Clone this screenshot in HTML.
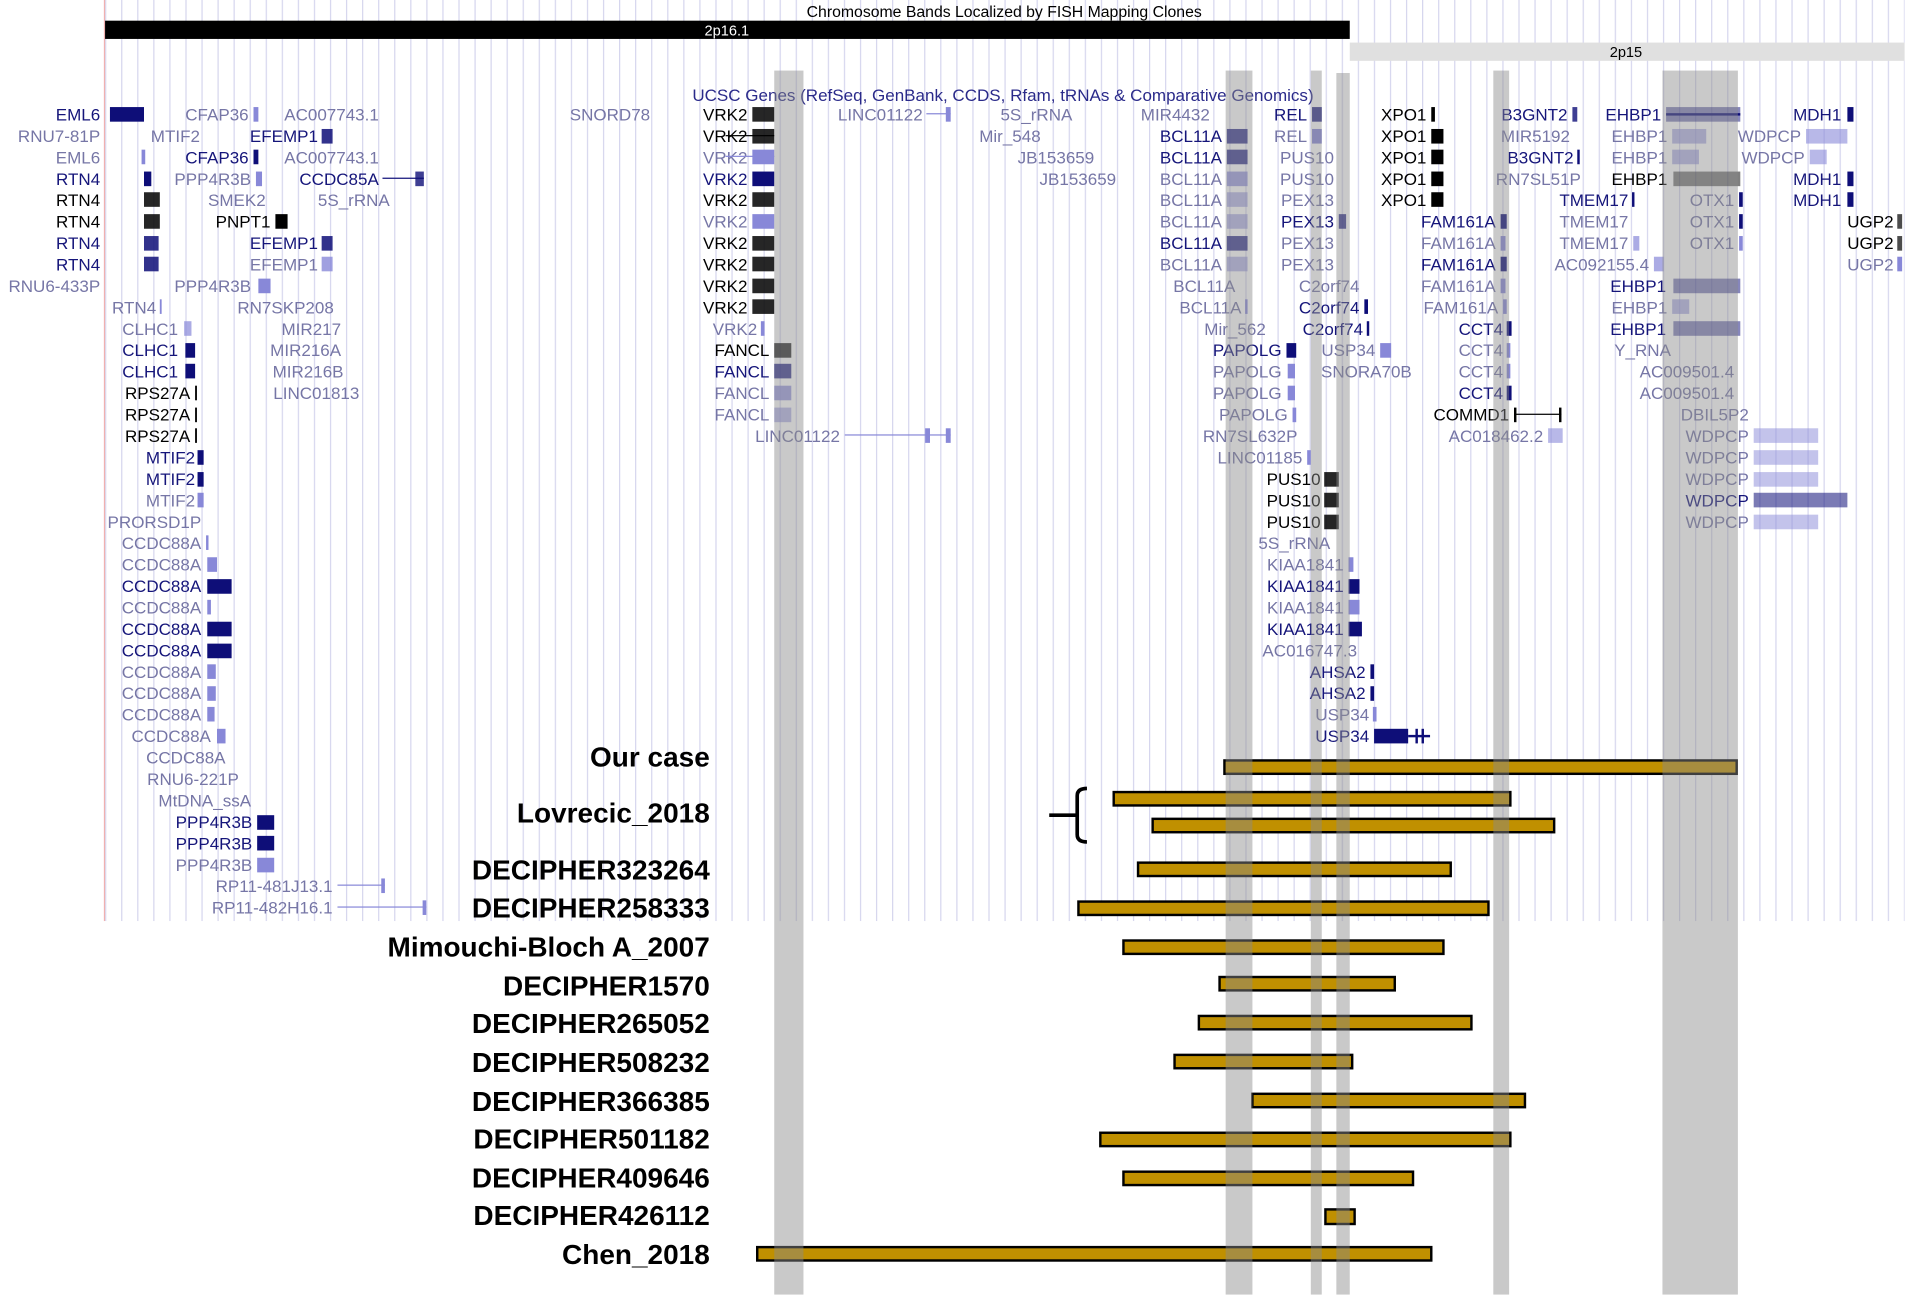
<!DOCTYPE html>
<html><head><meta charset="utf-8"><style>
html,body{margin:0;padding:0;background:#fff;}
svg{display:block;}
text{font-family:"Liberation Sans",sans-serif;font-size:14px;}
.g text{text-anchor:end;}
.d{fill:#15157a;} .k{fill:#000;} .l{fill:#7676a6;}
.gd{fill:#0e0e78;} .gk{fill:#000;} .gl{fill:#8888d8;}
.lab{font-family:"Liberation Sans Narrow","Liberation Sans",sans-serif;font-weight:bold;font-size:23px;text-anchor:end;fill:#000;}
.bar{fill:#c09000;stroke:#000;stroke-width:2;}
</style></head><body>
<svg width="1905" height="1297" viewBox="0 0 1565 1066" xmlns="http://www.w3.org/2000/svg">
<defs><pattern id="gp" x="86" y="0" width="13.2" height="800" patternUnits="userSpaceOnUse"><rect x="0" y="0" width="1" height="800" fill="#d6d6ee"/></pattern></defs>
<rect x="86" y="0" width="1479" height="757" fill="url(#gp)"/>
<rect x="85" y="0" width="1" height="757" fill="#f0b0b0"/>
<text x="825" y="14" text-anchor="middle" style="font-size:13px">Chromosome Bands Localized by FISH Mapping Clones</text>
<rect x="86" y="17" width="1023" height="15" fill="#000"/>
<text x="597" y="29" text-anchor="middle" fill="#fff" style="font-size:12px">2p16.1</text>
<rect x="1109" y="35" width="456" height="15" fill="#e0e0e0"/>
<text x="1336" y="47" text-anchor="middle" style="font-size:12px">2p15</text>
<text x="824" y="83" text-anchor="middle" fill="#2a2a8a">UCSC Genes (RefSeq, GenBank, CCDS, Rfam, tRNAs &amp; Comparative Genomics)</text>

<g class="g">
<!-- column 1 -->
<text x="82" y="99" class="d">EML6</text><rect x="90" y="88" width="28" height="12" class="gd"/>
<text x="82" y="116.6" class="l">RNU7-81P</text>
<text x="82" y="134.2" class="l">EML6</text><rect x="116" y="123" width="3" height="12" class="gl"/>
<text x="82" y="151.9" class="d">RTN4</text><rect x="118" y="141" width="6" height="12" class="gd"/>
<text x="82" y="169.5" class="k">RTN4</text><rect x="118" y="158" width="13" height="12" class="gk" opacity=".85"/>
<text x="82" y="187.1" class="k">RTN4</text><rect x="118" y="176" width="13" height="12" class="gk" opacity=".85"/>
<text x="82" y="204.7" class="d">RTN4</text><rect x="118" y="194" width="12" height="12" class="gd" opacity=".85"/>
<text x="82" y="222.3" class="d">RTN4</text><rect x="118" y="211" width="12" height="12" class="gd" opacity=".85"/>
<text x="82" y="240" class="l">RNU6-433P</text>
<text x="128" y="257.6" class="l">RTN4</text><rect x="131" y="246" width="1.5" height="12" class="gl"/>
<text x="146" y="275.2" class="l">CLHC1</text><rect x="151" y="264" width="6" height="12" class="gl" opacity=".7"/>
<text x="146" y="292.8" class="d">CLHC1</text><rect x="152" y="282" width="8" height="12" class="gd"/>
<text x="146" y="310.4" class="d">CLHC1</text><rect x="152" y="299" width="8" height="12" class="gd"/>
<text x="156" y="328" class="k">RPS27A</text><rect x="160" y="317" width="1.5" height="12" class="gk"/>
<text x="156" y="345.7" class="k">RPS27A</text><rect x="160" y="335" width="1.5" height="12" class="gk"/>
<text x="156" y="363.3" class="k">RPS27A</text><rect x="160" y="352" width="1.5" height="12" class="gk"/>
<text x="160" y="380.9" class="d">MTIF2</text><rect x="162" y="370" width="5" height="12" class="gd"/>
<text x="160" y="398.5" class="d">MTIF2</text><rect x="162" y="388" width="5" height="12" class="gd"/>
<text x="160" y="416.2" class="l">MTIF2</text><rect x="162" y="405" width="5" height="12" class="gl"/>
<text x="165" y="433.8" class="l">PRORSD1P</text>
<text x="165" y="451.4" class="l">CCDC88A</text><rect x="169" y="440" width="2" height="12" class="gl"/>
<text x="165" y="469" class="l">CCDC88A</text><rect x="170" y="458" width="8" height="12" class="gl"/>
<text x="165" y="486.6" class="d">CCDC88A</text><rect x="170" y="476" width="20" height="12" class="gd"/>
<text x="165" y="504.3" class="l">CCDC88A</text><rect x="170" y="493" width="3" height="12" class="gl"/>
<text x="165" y="521.9" class="d">CCDC88A</text><rect x="170" y="511" width="20" height="12" class="gd"/>
<text x="165" y="539.5" class="d">CCDC88A</text><rect x="170" y="529" width="20" height="12" class="gd"/>
<text x="165" y="557.1" class="l">CCDC88A</text><rect x="170" y="546" width="7" height="12" class="gl"/>
<text x="165" y="574.7" class="l">CCDC88A</text><rect x="170" y="564" width="7" height="12" class="gl"/>
<text x="165" y="592.3" class="l">CCDC88A</text><rect x="170" y="581" width="6" height="12" class="gl"/>
<text x="173" y="610" class="l">CCDC88A</text><rect x="178" y="599" width="7" height="12" class="gl"/>
<text x="185" y="627.6" class="l">CCDC88A</text>
<text x="196" y="645.2" class="l">RNU6-221P</text>
<text x="206" y="662.8" class="l">MtDNA_ssA</text>
<text x="207" y="680.4" class="d">PPP4R3B</text><rect x="211" y="670" width="14" height="12" class="gd"/>
<text x="207" y="698" class="d">PPP4R3B</text><rect x="211" y="687" width="14" height="12" class="gd"/>
<text x="207" y="715.7" class="l">PPP4R3B</text><rect x="211" y="705" width="14" height="12" class="gl"/>
<text x="273" y="733.3" class="l">RP11-481J13.1</text><rect x="277" y="727" width="39" height="1" class="gl"/><rect x="313" y="722" width="3" height="12" class="gl"/>
<text x="273" y="750.9" class="l">RP11-482H16.1</text><rect x="277" y="745" width="73" height="1" class="gl"/><rect x="347" y="740" width="3" height="12" class="gl"/>
<!-- column 2 -->
<text x="204" y="99" class="l">CFAP36</text><rect x="208" y="88" width="4" height="12" class="gl"/>
<text x="311" y="99" class="l">AC007743.1</text>
<text x="164" y="116.6" class="l">MTIF2</text>
<text x="261" y="116.6" class="d">EFEMP1</text><rect x="264" y="106" width="9" height="12" class="gd" opacity=".85"/>
<text x="204" y="134.2" class="d">CFAP36</text><rect x="208" y="123" width="4" height="12" class="gd"/>
<text x="311" y="134.2" class="l">AC007743.1</text>
<text x="206" y="151.9" class="l">PPP4R3B</text><rect x="210" y="141" width="5" height="12" class="gl"/>
<text x="311" y="151.9" class="d">CCDC85A</text><rect x="314" y="146" width="34" height="1" class="gd"/><rect x="341" y="141" width="7" height="12" class="gd" opacity=".8"/>
<text x="218" y="169.5" class="l">SMEK2</text>
<text x="320" y="169.5" class="l">5S_rRNA</text>
<text x="222" y="187.1" class="k">PNPT1</text><rect x="226" y="176" width="10" height="12" class="gk"/>
<text x="261" y="204.7" class="d">EFEMP1</text><rect x="264" y="194" width="9" height="12" class="gd" opacity=".85"/>
<text x="261" y="222.3" class="l">EFEMP1</text><rect x="264" y="211" width="9" height="12" class="gl" opacity=".8"/>
<text x="206" y="240" class="l">PPP4R3B</text><rect x="212" y="229" width="10" height="12" class="gl"/>
<text x="274" y="257.6" class="l">RN7SKP208</text>
<text x="280" y="275.2" class="l">MIR217</text>
<text x="280" y="292.8" class="l">MIR216A</text>
<text x="282" y="310.4" class="l">MIR216B</text>
<text x="295" y="328" class="l">LINC01813</text>
<!-- VRK2 region -->
<text x="534" y="99" class="l">SNORD78</text>
<text x="614" y="99" class="k">VRK2</text><rect x="618" y="88" width="18" height="12" class="gk" opacity=".85"/>
<text x="614" y="116.6" class="k">VRK2</text><rect x="596" y="111" width="40" height="1" class="gk"/><rect x="618" y="106" width="18" height="12" class="gk" opacity=".85"/>
<text x="614" y="134.2" class="l">VRK2</text><rect x="596" y="128" width="40" height="1" class="gl"/><rect x="618" y="123" width="18" height="12" class="gl"/>
<text x="614" y="151.9" class="d">VRK2</text><rect x="618" y="141" width="18" height="12" class="gd"/>
<text x="614" y="169.5" class="k">VRK2</text><rect x="618" y="158" width="18" height="12" class="gk" opacity=".85"/>
<text x="614" y="187.1" class="l">VRK2</text><rect x="618" y="176" width="18" height="12" class="gl"/>
<text x="614" y="204.7" class="k">VRK2</text><rect x="618" y="194" width="18" height="12" class="gk" opacity=".85"/>
<text x="614" y="222.3" class="k">VRK2</text><rect x="618" y="211" width="18" height="12" class="gk" opacity=".85"/>
<text x="614" y="240" class="k">VRK2</text><rect x="618" y="229" width="18" height="12" class="gk" opacity=".85"/>
<text x="614" y="257.6" class="k">VRK2</text><rect x="618" y="246" width="18" height="12" class="gk" opacity=".85"/>
<text x="622" y="275.2" class="l">VRK2</text><rect x="625" y="264" width="3" height="12" class="gl"/>
<text x="632" y="292.8" class="k">FANCL</text><rect x="636" y="282" width="14" height="12" class="gk" opacity=".8"/>
<text x="632" y="310.4" class="d">FANCL</text><rect x="636" y="299" width="14" height="12" class="gd" opacity=".8"/>
<text x="632" y="328" class="l">FANCL</text><rect x="636" y="317" width="14" height="12" class="gl" opacity=".8"/>
<text x="632" y="345.7" class="l">FANCL</text><rect x="636" y="335" width="14" height="12" class="gl" opacity=".6"/>
<text x="690" y="363.3" class="l">LINC01122</text><rect x="694" y="357" width="87" height="1" class="gl"/><rect x="760" y="352" width="4" height="12" class="gl"/><rect x="777" y="352" width="4" height="12" class="gl"/>
<text x="758" y="99" class="l">LINC01122</text><rect x="761" y="93" width="20" height="1" class="gl"/><rect x="777" y="88" width="4" height="12" class="gl"/>
<text x="881" y="99" class="l">5S_rRNA</text>
<text x="855" y="116.6" class="l">Mir_548</text>
<text x="899" y="134.2" class="l">JB153659</text>
<text x="917" y="151.9" class="l">JB153659</text>
<!-- BCL11A region -->
<text x="994" y="99" class="l">MIR4432</text>
<text x="1004" y="116.6" class="d">BCL11A</text><rect x="1008" y="106" width="17" height="12" class="gd" opacity=".8"/>
<text x="1004" y="134.2" class="d">BCL11A</text><rect x="1008" y="123" width="17" height="12" class="gd" opacity=".8"/>
<text x="1004" y="151.9" class="l">BCL11A</text><rect x="1008" y="141" width="17" height="12" class="gl" opacity=".8"/>
<text x="1004" y="169.5" class="l">BCL11A</text><rect x="1008" y="158" width="17" height="12" class="gl" opacity=".6"/>
<text x="1004" y="187.1" class="l">BCL11A</text><rect x="1008" y="176" width="17" height="12" class="gl" opacity=".6"/>
<text x="1004" y="204.7" class="d">BCL11A</text><rect x="1008" y="194" width="17" height="12" class="gd" opacity=".8"/>
<text x="1004" y="222.3" class="l">BCL11A</text><rect x="1008" y="211" width="17" height="12" class="gl" opacity=".6"/>
<text x="1015" y="240" class="l">BCL11A</text>
<text x="1020" y="257.6" class="l">BCL11A</text><rect x="1023" y="246" width="2" height="12" class="gl"/>
<text x="1040" y="275.2" class="l">Mir_562</text>
<text x="1053" y="292.8" class="d">PAPOLG</text><rect x="1057" y="282" width="8" height="12" class="gd"/>
<text x="1053" y="310.4" class="l">PAPOLG</text><rect x="1058" y="299" width="6" height="12" class="gl"/>
<text x="1053" y="328" class="l">PAPOLG</text><rect x="1058" y="317" width="6" height="12" class="gl"/>
<text x="1058" y="345.7" class="l">PAPOLG</text><rect x="1062" y="335" width="3" height="12" class="gl"/>
<text x="1066" y="363.3" class="l">RN7SL632P</text>
<text x="1070" y="380.9" class="l">LINC01185</text><rect x="1074" y="370" width="3" height="12" class="gl"/>
<text x="1085" y="398.5" class="k">PUS10</text><rect x="1088" y="388" width="12" height="12" class="gk" opacity=".85"/>
<text x="1085" y="416.2" class="k">PUS10</text><rect x="1088" y="405" width="12" height="12" class="gk" opacity=".85"/>
<text x="1085" y="433.8" class="k">PUS10</text><rect x="1088" y="423" width="12" height="12" class="gk" opacity=".85"/>
<text x="1093" y="451.4" class="l">5S_rRNA</text>
<text x="1104" y="469" class="l">KIAA1841</text><rect x="1108" y="458" width="4" height="12" class="gl"/>
<text x="1104" y="486.6" class="d">KIAA1841</text><rect x="1108" y="476" width="9" height="12" class="gd"/>
<text x="1104" y="504.3" class="l">KIAA1841</text><rect x="1108" y="493" width="9" height="12" class="gl"/>
<text x="1104" y="521.9" class="d">KIAA1841</text><rect x="1108" y="511" width="11" height="12" class="gd"/>
<text x="1115" y="539.5" class="l">AC016747.3</text>
<text x="1122" y="557.1" class="d">AHSA2</text><rect x="1126" y="546" width="3" height="12" class="gd"/>
<text x="1122" y="574.7" class="d">AHSA2</text><rect x="1126" y="564" width="3" height="12" class="gd"/>
<text x="1125" y="592.3" class="l">USP34</text><rect x="1128" y="581" width="3" height="12" class="gl"/>
<text x="1125" y="610" class="d">USP34</text><rect x="1129" y="599" width="28" height="12" class="gd"/><rect x="1157" y="604" width="18" height="2" class="gd"/><rect x="1163" y="599" width="2" height="12" class="gd"/><rect x="1168" y="599" width="2" height="12" class="gd"/>
<!-- REL/PEX13 column -->
<text x="1074" y="99" class="d">REL</text><rect x="1078" y="88" width="8" height="12" class="gd" opacity=".85"/>
<text x="1074" y="116.6" class="l">REL</text><rect x="1078" y="106" width="8" height="12" class="gl"/>
<text x="1096" y="134.2" class="l">PUS10</text>
<text x="1096" y="151.9" class="l">PUS10</text>
<text x="1096" y="169.5" class="l">PEX13</text>
<text x="1096" y="187.1" class="d">PEX13</text><rect x="1100" y="176" width="6" height="12" class="gd" opacity=".8"/>
<text x="1096" y="204.7" class="l">PEX13</text>
<text x="1096" y="222.3" class="l">PEX13</text>
<text x="1117" y="240" class="l">C2orf74</text>
<text x="1117" y="257.6" class="d">C2orf74</text><rect x="1121" y="246" width="3" height="12" class="gd"/>
<text x="1120" y="275.2" class="d">C2orf74</text><rect x="1123" y="264" width="2" height="12" class="gd"/>
<text x="1130" y="292.8" class="l">USP34</text><rect x="1134" y="282" width="9" height="12" class="gl"/>
<text x="1160" y="310.4" class="l">SNORA70B</text>
<!-- XPO1 column -->
<text x="1172" y="99" class="k">XPO1</text><rect x="1176" y="88" width="3" height="12" class="gk"/>
<text x="1172" y="116.6" class="k">XPO1</text><rect x="1176" y="106" width="10" height="12" class="gk"/>
<text x="1172" y="134.2" class="k">XPO1</text><rect x="1176" y="123" width="10" height="12" class="gk"/>
<text x="1172" y="151.9" class="k">XPO1</text><rect x="1176" y="141" width="10" height="12" class="gk"/>
<text x="1172" y="169.5" class="k">XPO1</text><rect x="1176" y="158" width="10" height="12" class="gk"/>
<text x="1229" y="187.1" class="d">FAM161A</text><rect x="1233" y="176" width="5" height="12" class="gd"/>
<text x="1229" y="204.7" class="l">FAM161A</text><rect x="1233" y="194" width="4" height="12" class="gl"/>
<text x="1229" y="222.3" class="d">FAM161A</text><rect x="1233" y="211" width="5" height="12" class="gd"/>
<text x="1229" y="240" class="l">FAM161A</text><rect x="1233" y="229" width="4" height="12" class="gl"/>
<text x="1231" y="257.6" class="l">FAM161A</text><rect x="1235" y="246" width="3" height="12" class="gl"/>
<text x="1235" y="275.2" class="d">CCT4</text><rect x="1238" y="264" width="4" height="12" class="gd"/>
<text x="1235" y="292.8" class="l">CCT4</text><rect x="1238" y="282" width="3" height="12" class="gl"/>
<text x="1235" y="310.4" class="l">CCT4</text><rect x="1238" y="299" width="3" height="12" class="gl"/>
<text x="1235" y="328" class="d">CCT4</text><rect x="1238" y="317" width="4" height="12" class="gd"/>
<text x="1240" y="345.7" class="k">COMMD1</text><rect x="1244" y="340" width="39" height="1" class="gk"/><rect x="1244" y="335" width="2" height="12" class="gk"/><rect x="1281" y="335" width="2" height="12" class="gk"/>
<text x="1268" y="363.3" class="l">AC018462.2</text><rect x="1272" y="352" width="12" height="12" class="gl" opacity=".6"/>
<!-- B3GNT2 column -->
<text x="1288" y="99" class="d">B3GNT2</text><rect x="1292" y="88" width="4" height="12" class="gd" opacity=".8"/>
<text x="1290" y="116.6" class="l">MIR5192</text>
<text x="1293" y="134.2" class="d">B3GNT2</text><rect x="1296" y="123" width="2" height="12" class="gd"/>
<text x="1299" y="151.9" class="l">RN7SL51P</text>
<text x="1338" y="169.5" class="d">TMEM17</text><rect x="1341" y="158" width="2" height="12" class="gd"/>
<text x="1338" y="187.1" class="l">TMEM17</text>
<text x="1338" y="204.7" class="l">TMEM17</text><rect x="1342" y="194" width="5" height="12" class="gl" opacity=".7"/>
<text x="1355" y="222.3" class="l">AC092155.4</text><rect x="1359" y="211" width="8" height="12" class="gl" opacity=".7"/>
<!-- EHBP1 column -->
<text x="1365" y="99" class="d">EHBP1</text><rect x="1369" y="93" width="61" height="2" class="gd"/><rect x="1369" y="88" width="61" height="12" class="gd" opacity=".5"/>
<text x="1370" y="116.6" class="l">EHBP1</text><rect x="1374" y="106" width="28" height="12" class="gl" opacity=".6"/>
<text x="1370" y="134.2" class="l">EHBP1</text><rect x="1374" y="123" width="22" height="12" class="gl" opacity=".6"/>
<text x="1370" y="151.9" class="k">EHBP1</text><rect x="1375" y="141" width="55" height="12" class="gk" opacity=".5"/>
<text x="1370" y="257.6" class="l">EHBP1</text><rect x="1374" y="246" width="14" height="12" class="gl" opacity=".6"/>
<text x="1369" y="240" class="d">EHBP1</text><rect x="1375" y="229" width="55" height="12" class="gd" opacity=".5"/>
<text x="1369" y="275.2" class="d">EHBP1</text><rect x="1375" y="264" width="55" height="12" class="gd" opacity=".5"/>
<text x="1373" y="292.8" class="l">Y_RNA</text>
<text x="1425" y="310.4" class="l">AC009501.4</text>
<text x="1425" y="328" class="l">AC009501.4</text>
<text x="1437" y="345.7" class="l">DBIL5P2</text>
<text x="1437" y="363.3" class="l">WDPCP</text><rect x="1441" y="352" width="53" height="12" class="gl" opacity=".5"/>
<text x="1437" y="380.9" class="l">WDPCP</text><rect x="1441" y="370" width="53" height="12" class="gl" opacity=".5"/>
<text x="1437" y="398.5" class="l">WDPCP</text><rect x="1441" y="388" width="53" height="12" class="gl" opacity=".5"/>
<text x="1437" y="416.2" class="d">WDPCP</text><rect x="1441" y="405" width="77" height="12" class="gd" opacity=".55"/>
<text x="1437" y="433.8" class="l">WDPCP</text><rect x="1441" y="423" width="53" height="12" class="gl" opacity=".5"/>
<text x="1425" y="169.5" class="l">OTX1</text><rect x="1429" y="158" width="3" height="12" class="gd"/>
<text x="1425" y="187.1" class="l">OTX1</text><rect x="1429" y="176" width="3" height="12" class="gd"/>
<text x="1425" y="204.7" class="l">OTX1</text><rect x="1429" y="194" width="3" height="12" class="gl"/>
<text x="1480" y="116.6" class="l">WDPCP</text><rect x="1484" y="106" width="34" height="12" class="gl" opacity=".6"/>
<text x="1483" y="134.2" class="l">WDPCP</text><rect x="1487" y="123" width="14" height="12" class="gl" opacity=".6"/>
<text x="1513" y="99" class="d">MDH1</text><rect x="1518" y="88" width="5" height="12" class="gd"/>
<text x="1513" y="151.9" class="d">MDH1</text><rect x="1518" y="141" width="5" height="12" class="gd"/>
<text x="1513" y="169.5" class="d">MDH1</text><rect x="1518" y="158" width="5" height="12" class="gd"/>
<text x="1556" y="187.1" class="k">UGP2</text><rect x="1559" y="176" width="4" height="12" class="gk" opacity=".7"/>
<text x="1556" y="204.7" class="k">UGP2</text><rect x="1559" y="194" width="4" height="12" class="gk" opacity=".7"/>
<text x="1556" y="222.3" class="l">UGP2</text><rect x="1559" y="211" width="4" height="12" class="gl"/>
</g>

<!-- case labels -->
<text class="lab" x="583" y="630">Our case</text>
<text class="lab" x="583" y="676">Lovrecic_2018</text>
<text class="lab" x="583" y="723">DECIPHER323264</text>
<text class="lab" x="583" y="754">DECIPHER258333</text>
<text class="lab" x="583" y="786">Mimouchi-Bloch A_2007</text>
<text class="lab" x="583" y="818">DECIPHER1570</text>
<text class="lab" x="583" y="849">DECIPHER265052</text>
<text class="lab" x="583" y="881">DECIPHER508232</text>
<text class="lab" x="583" y="913">DECIPHER366385</text>
<text class="lab" x="583" y="944">DECIPHER501182</text>
<text class="lab" x="583" y="976">DECIPHER409646</text>
<text class="lab" x="583" y="1007">DECIPHER426112</text>
<text class="lab" x="583" y="1039">Chen_2018</text>

<!-- bars -->
<rect class="bar" x="1006" y="625" width="421" height="11"/>
<rect class="bar" x="915" y="651" width="326" height="11"/>
<rect class="bar" x="947" y="673" width="330" height="11"/>
<rect class="bar" x="935" y="709" width="257" height="11"/>
<rect class="bar" x="886" y="741" width="337" height="11"/>
<rect class="bar" x="923" y="773" width="263" height="11"/>
<rect class="bar" x="1002" y="803" width="144" height="11"/>
<rect class="bar" x="985" y="835" width="224" height="11"/>
<rect class="bar" x="965" y="867" width="146" height="11"/>
<rect class="bar" x="1029" y="899" width="224" height="11"/>
<rect class="bar" x="904" y="931" width="337" height="11"/>
<rect class="bar" x="923" y="963" width="238" height="11"/>
<rect class="bar" x="1089" y="994" width="24" height="12"/>
<rect class="bar" x="622" y="1025" width="554" height="11"/>

<!-- brace -->
<path d="M893 648 Q885 648 885 654 L885 686 Q885 692 893 692 M885 670 L862 670" fill="none" stroke="#000" stroke-width="3"/>

<!-- gray columns -->
<g fill="#8a8a8a" opacity="0.46">
<rect x="636" y="58" width="24" height="1006"/>
<rect x="1007" y="58" width="22" height="1006"/>
<rect x="1077" y="58" width="9" height="1006"/>
<rect x="1098" y="60" width="11" height="1004"/>
<rect x="1227" y="58" width="13" height="1006"/>
<rect x="1366" y="58" width="62" height="1006"/>
</g>
</svg>
</body></html>
